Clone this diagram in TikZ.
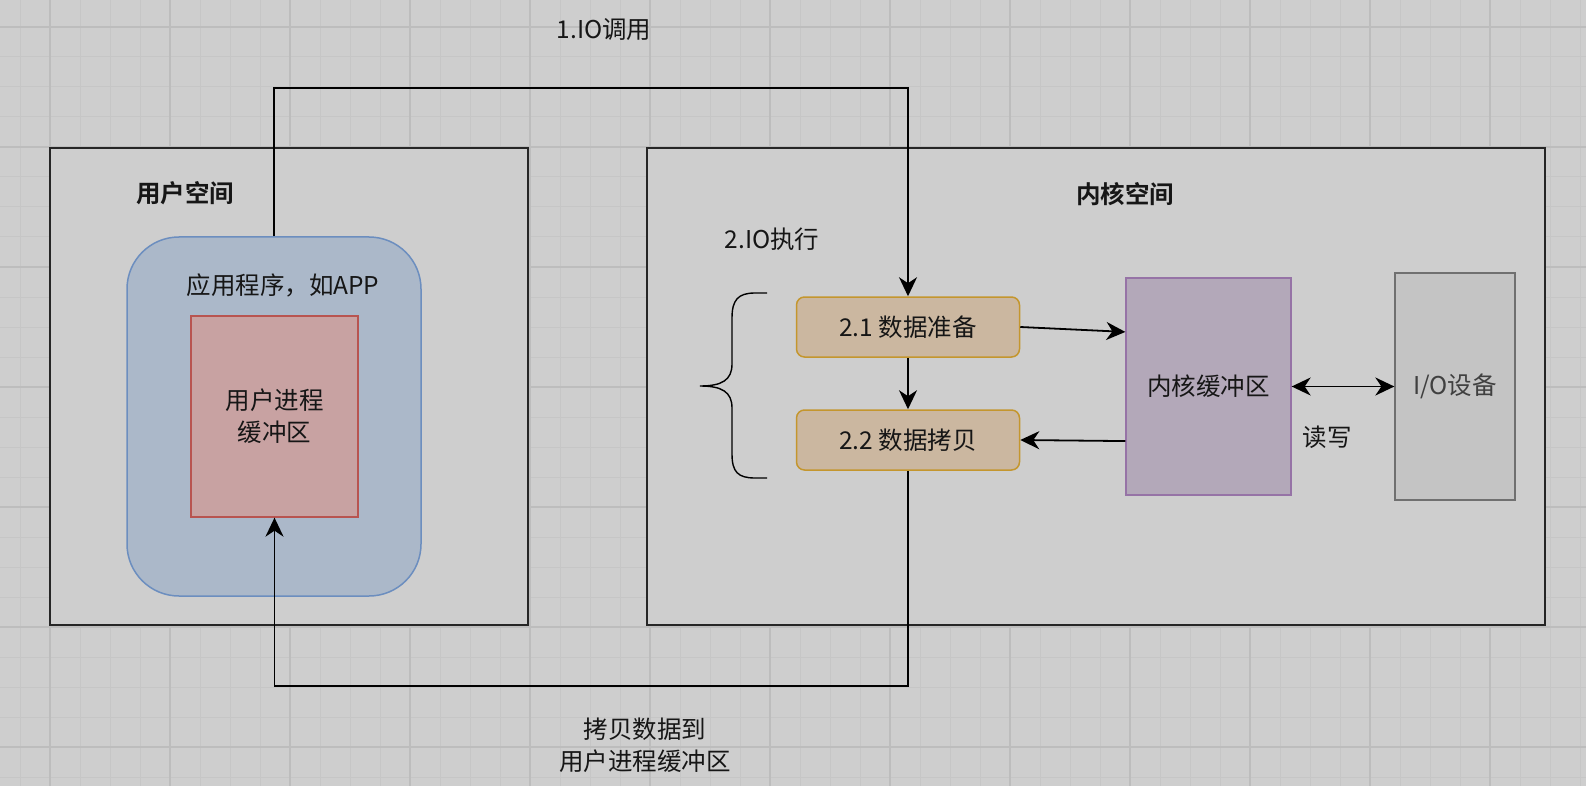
\documentclass[tikz,border=0pt]{standalone}
\usepackage{fontspec}
\setmainfont{Noto Sans CJK SC}[BoldFont={Noto Sans CJK SC Bold}]
\usetikzlibrary{arrows.meta,calc}
\definecolor{bg}{HTML}{CECECE}
\definecolor{gminor}{HTML}{C6C6C6}
\definecolor{gmajor}{HTML}{BDBDBD}
\definecolor{txt}{HTML}{161616}
\definecolor{appfill}{HTML}{ABB8C9}
\definecolor{appline}{HTML}{6C8EBF}
\definecolor{redfill}{HTML}{C8A2A2}
\definecolor{redline}{HTML}{B85450}
\definecolor{tanfill}{HTML}{CBB7A0}
\definecolor{tanline}{HTML}{C4962E}
\definecolor{purfill}{HTML}{B3A8B9}
\definecolor{purline}{HTML}{9673A6}
\definecolor{iofill}{HTML}{C4C4C4}
\definecolor{ioline}{HTML}{707070}
\tikzset{
  every node/.style={font=\fontsize{24.5}{32}\selectfont, text=txt},
  space/.style={draw=black!85, line width=1.6pt, fill=bg, inner sep=0pt},
  appbox/.style={draw=appline, line width=1.5pt, fill=appfill, rounded corners=52pt, inner sep=0pt},
  ubufbox/.style={draw=redline, line width=1.3pt, fill=redfill, inner sep=0pt, align=center},
  stepbox/.style={draw=tanline, line width=1.5pt, fill=tanfill, rounded corners=8pt, inner sep=0pt},
  kbufbox/.style={draw=purline, line width=1.3pt, fill=purfill, inner sep=0pt},
  iobox/.style={draw=ioline, line width=1.3pt, fill=iofill, inner sep=0pt, text=black!75},
  conn/.style={draw=black, line width=1.8pt},
  arr/.style={conn, -{Stealth[length=19pt,width=18pt,inset=6pt]}},
  darr/.style={conn, {Stealth[length=19pt,width=18pt,inset=6pt]}-{Stealth[length=19pt,width=18pt,inset=6pt]}},
  lbl/.style={inner sep=0pt, align=center},
}
\begin{document}
\begin{tikzpicture}[x=1pt,y=-1pt]
\useasboundingbox (0,0) rectangle (1586,786);
\fill[bg] (0,0) rectangle (1586,786);
% grid
\foreach \x in {20,50,...,1586} \draw[gminor,line width=1pt] (\x,0) -- (\x,786);
\foreach \y in {-3,27,...,786} \draw[gminor,line width=1pt] (0,\y) -- (1586,\y);
\foreach \x in {50,170,...,1586} \draw[gmajor,line width=1.2pt] (\x,0) -- (\x,786);
\foreach \y in {27,147,...,786} \draw[gmajor,line width=1.2pt] (0,\y) -- (1586,\y);

% spaces
\node[space, minimum width=478pt, minimum height=477pt] (us) at (289,386.5) {};
\node[space, minimum width=898pt, minimum height=477pt] (ks) at (1096,386.5) {};
\node[lbl, font=\fontsize{24.5}{32}\selectfont\bfseries] (ust) at (185,193) {用户空间};
\node[lbl, font=\fontsize{24.5}{32}\selectfont\bfseries] (kst) at (1125,194) {内核空间};

% user side
\node[appbox, minimum width=294pt, minimum height=359pt] (app) at (274,416.5) {};
\node[lbl] (appt) at (283,285) {应用程序，如APP};
\node[ubufbox, minimum width=167pt, minimum height=201pt] (ubuf) at (274.5,416.5) {用户进程\\缓冲区};

% kernel side
\node[lbl] (exe) at (772,239) {2.IO执行};
\node[stepbox, minimum width=223pt, minimum height=60pt] (d21) at (908,327) {2.1 数据准备};
\node[stepbox, minimum width=223pt, minimum height=60pt] (d22) at (908,440) {2.2 数据拷贝};
\node[kbufbox, minimum width=165pt, minimum height=217pt] (kbuf) at (1208.5,386.5) {内核缓冲区};
\node[iobox, minimum width=120pt, minimum height=227pt] (io) at (1455,386.5) {I/O设备};
\node[lbl] (rw) at (1327,437) {读写};

% brace
\coordinate (bt) at (767,293);
\coordinate (bb) at (767,478);
\coordinate (bm) at (700,386);
\draw[conn, line width=1.4pt] (bt) -- (755,293) .. controls (738,293) and (732,300) .. (732,318)
  -- (732,364) .. controls (732,380) and (722,386) .. (bm)
  .. controls (722,386) and (732,392) .. (732,408)
  -- (732,454) .. controls (732,472) and (738,478) .. (755,478) -- (bb);

% connectors
\draw[arr] (app.north) -- ++(0,-148) -| (d21.north);
\node[lbl] (l1) at (604,30) {1.IO调用};
\draw[arr] (d21) -- (d22);
\draw[arr] (d21.east) -- ($(kbuf.north west)!0.25!(kbuf.south west)$);
\draw[arr] ($(kbuf.north west)!0.75!(kbuf.south west)$) -- (d22.east);
\draw[darr] (kbuf.east) -- (io.west);
\draw[arr] (d22.south) -- ++(0,215) -| (ubuf.south);
\node[lbl] (l3) at (645,745) {拷贝数据到\\用户进程缓冲区};
\end{tikzpicture}
\end{document}
